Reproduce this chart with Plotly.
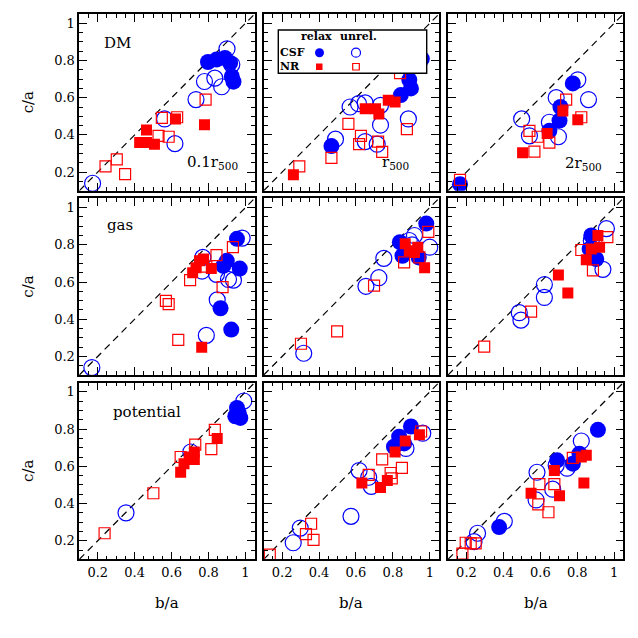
import plotly.graph_objects as go

# ---- data: (b/a, c/a) per panel and group ----
# groups: CSF relaxed, CSF unrelaxed, NR relaxed, NR unrelaxed
DM_01 = {
    "csf_rel": ([0.797, 0.843, 0.889, 0.917, 0.926, 0.935], [0.792, 0.805, 0.814, 0.787, 0.714, 0.686]),
    "csf_unr": ([0.172, 0.90, 0.926, 0.778, 0.834, 0.871, 0.732, 0.562, 0.618],
                [0.14, 0.863, 0.778, 0.687, 0.705, 0.659, 0.59, 0.486, 0.353]),
    "nr_rel": ([0.464, 0.427, 0.464, 0.507, 0.621, 0.778], [0.426, 0.359, 0.359, 0.35, 0.486, 0.455]),
    "nr_unr": ([0.242, 0.303, 0.348, 0.547, 0.63, 0.784, 0.529, 0.584],
               [0.231, 0.268, 0.189, 0.492, 0.495, 0.59, 0.395, 0.39]),
}
DM_1 = {
    "csf_rel": ([0.957, 0.889, 0.898, 0.843, 0.467], [0.809, 0.696, 0.65, 0.614, 0.34]),
    "csf_unr": ([0.489, 0.568, 0.614, 0.65, 0.733, 0.733, 0.884, 0.65, 0.715],
                [0.377, 0.55, 0.568, 0.572, 0.559, 0.453, 0.486, 0.364, 0.35]),
    "nr_rel": ([0.261, 0.65, 0.706, 0.724, 0.775, 0.812], [0.186, 0.541, 0.541, 0.513, 0.586, 0.577]),
    "nr_unr": ([0.293, 0.467, 0.559, 0.627, 0.617, 0.72, 0.742, 0.876, 0.839],
               [0.231, 0.277, 0.459, 0.395, 0.35, 0.364, 0.309, 0.431, 0.732]),
}
DM_2 = {
    "csf_rel": ([0.165, 0.776, 0.709, 0.704, 0.649], [0.135, 0.677, 0.55, 0.477, 0.422]),
    "csf_unr": ([0.803, 0.686, 0.861, 0.499, 0.541, 0.649, 0.698], [0.696, 0.6, 0.59, 0.486, 0.395, 0.468, 0.39]),
    "nr_rel": ([0.722, 0.803, 0.637, 0.504], [0.528, 0.481, 0.408, 0.304]),
    "nr_unr": ([0.165, 0.74, 0.822, 0.541, 0.586, 0.649, 0.568], [0.158, 0.59, 0.495, 0.422, 0.39, 0.359, 0.31]),
}
GAS_01 = {
    "csf_rel": ([0.954, 0.899, 0.88, 0.969, 0.865, 0.923], [0.832, 0.714, 0.687, 0.672, 0.459, 0.344]),
    "csf_unr": ([0.982, 0.769, 0.765, 0.843, 0.908, 0.935, 0.847, 0.788, 0.168],
                [0.836, 0.732, 0.659, 0.641, 0.614, 0.61, 0.504, 0.313, 0.14]),
    "nr_rel": ([0.751, 0.773, 0.714, 0.732, 0.815, 0.763], [0.714, 0.723, 0.65, 0.677, 0.672, 0.249]),
    "nr_unr": ([0.932, 0.843, 0.788, 0.70, 0.876, 0.569, 0.584, 0.636],
               [0.787, 0.745, 0.683, 0.61, 0.572, 0.499, 0.481, 0.289]),
}
GAS_1 = {
    "csf_rel": ([0.981, 0.838, 0.852, 0.94], [0.914, 0.814, 0.741, 0.732]),
    "csf_unr": ([0.917, 0.889, 0.904, 1.0, 0.751, 0.724, 0.654, 0.317],
                [0.85, 0.823, 0.80, 0.787, 0.727, 0.623, 0.577, 0.217]),
    "nr_rel": ([0.867, 0.889, 0.935, 0.972, 0.917], [0.805, 0.768, 0.787, 0.677, 0.759]),
    "nr_unr": ([0.992, 0.861, 0.944, 0.698, 0.498, 0.302], [0.869, 0.705, 0.732, 0.581, 0.335, 0.268]),
}
GAS_2 = {
    "csf_rel": ([0.876, 0.903, 0.867], [0.85, 0.723, 0.778]),
    "csf_unr": ([0.958, 0.876, 0.939, 0.622, 0.622, 0.486, 0.495], [0.887, 0.823, 0.668, 0.586, 0.517, 0.435, 0.395]),
    "nr_rel": ([0.912, 0.921, 0.876, 0.849, 0.698, 0.749], [0.85, 0.787, 0.778, 0.719, 0.637, 0.541]),
    "nr_unr": ([0.963, 0.822, 0.885, 0.55, 0.296], [0.841, 0.772, 0.663, 0.441, 0.253]),
}
POT_01 = {
    "csf_rel": ([0.954, 0.963, 0.945, 0.972], [0.914, 0.887, 0.869, 0.86]),
    "csf_unr": ([0.991, 0.704, 0.353], [0.951, 0.677, 0.35]),
    "nr_rel": ([0.847, 0.723, 0.695, 0.667, 0.649, 0.723], [0.75, 0.677, 0.65, 0.614, 0.568, 0.636]),
    "nr_unr": ([0.834, 0.728, 0.649, 0.815, 0.501, 0.237], [0.796, 0.717, 0.65, 0.692, 0.455, 0.24]),
}
POT_1 = {
    "csf_rel": ([0.898, 0.834, 0.806, 0.861], [0.814, 0.759, 0.705, 0.723]),
    "csf_unr": ([0.962, 0.871, 0.617, 0.669, 0.683, 0.573, 0.298, 0.26],
                [0.778, 0.696, 0.577, 0.541, 0.492, 0.331, 0.268, 0.189]),
    "nr_rel": ([0.867, 0.812, 0.944, 0.77, 0.733, 0.632], [0.736, 0.677, 0.769, 0.523, 0.486, 0.51]),
    "nr_unr": ([0.953, 0.742, 0.849, 0.788, 0.794, 0.669, 0.357, 0.329, 0.37, 0.133],
               [0.787, 0.637, 0.592, 0.564, 0.535, 0.554, 0.291, 0.235, 0.204, 0.125]),
}
POT_2 = {
    "csf_rel": ([0.912, 0.812, 0.776, 0.691, 0.377], [0.796, 0.668, 0.614, 0.632, 0.273]),
    "csf_unr": ([0.822, 0.745, 0.686, 0.582, 0.667, 0.577, 0.405, 0.26, 0.241],
                [0.736, 0.59, 0.605, 0.568, 0.477, 0.419, 0.304, 0.24, 0.195]),
    "nr_rel": ([0.849, 0.822, 0.676, 0.836, 0.55, 0.704], [0.659, 0.65, 0.577, 0.51, 0.455, 0.441]),
    "nr_unr": ([0.776, 0.676, 0.595, 0.589, 0.644, 0.196, 0.223, 0.25, 0.178],
               [0.645, 0.504, 0.504, 0.395, 0.353, 0.189, 0.186, 0.186, 0.131]),
}

PANELS = [[DM_01, DM_1, DM_2], [GAS_01, GAS_1, GAS_2], [POT_01, POT_1, POT_2]]
RADII = ["0.1r<sub>500</sub>", "r<sub>500</sub>", "2r<sub>500</sub>"]
AX_RANGE = [0.1, 1.05]
TICKS = [0.2, 0.4, 0.6, 0.8, 1.0]
TICK_TEXT = ["0.2", "0.4", "0.6", "0.8", "1"]

BLUE = "#0000ff"
RED = "#ff0000"
STYLE = {
    "csf_rel": dict(symbol="circle", size=16, color=BLUE, line=dict(width=0)),
    "csf_unr": dict(symbol="circle-open", size=16, color=BLUE, line=dict(width=1.2, color=BLUE)),
    "nr_rel": dict(symbol="square", size=11, color=RED, line=dict(width=0)),
    "nr_unr": dict(symbol="square-open", size=11, color=RED, line=dict(width=1.2, color=RED)),
}

# page has an 8px body margin, so the figure is drawn 8px in from the window corner
OFF = 8
W = H = 630
FONT = "DejaVu Serif"
# panel frames in window pixels
col_px = [(79.3, 254.7), (263.7, 439.0), (448.0, 623.4)]
row_px = [(14.0, 190.7), (198.3, 375.0), (382.6, 559.3)]


def px(x):
    return (x - OFF) / W


def py(y):
    return 1 - (y - OFF) / H


def sfx(k):
    return "" if k == 1 else str(k)


fig = go.Figure()
layout = {}
annotations = []

for r in range(3):
    for c in range(3):
        k = r * 3 + c + 1
        xa, ya = "x" + sfx(k), "y" + sfx(k)
        # y = x reference line
        fig.add_trace(go.Scatter(x=AX_RANGE, y=AX_RANGE, mode="lines", xaxis=xa, yaxis=ya,
                                 line=dict(color="black", width=1.2, dash="7px,5px"),
                                 hoverinfo="skip", showlegend=False))
        for g in ["csf_rel", "csf_unr", "nr_rel", "nr_unr"]:
            b, ca = PANELS[r][c][g]
            fig.add_trace(go.Scatter(x=b, y=ca, mode="markers", xaxis=xa, yaxis=ya,
                                     marker=STYLE[g], showlegend=False))
        common = dict(range=AX_RANGE, showline=True, linecolor="black", linewidth=1.6,
                      mirror="ticks", ticks="inside", ticklen=8, tickwidth=1.2, tickcolor="black",
                      tickvals=TICKS, ticktext=TICK_TEXT, showgrid=False, zeroline=False,
                      tickfont=dict(family=FONT, size=13, color="black"),
                      minor=dict(dtick=0.05, tick0=0, ticks="inside", ticklen=4,
                                 tickwidth=1.0, tickcolor="black", showgrid=False))
        layout["xaxis" + sfx(k)] = dict(common, anchor=ya,
                                        domain=[px(col_px[c][0]), px(col_px[c][1])],
                                        showticklabels=(r == 2))
        layout["yaxis" + sfx(k)] = dict(common, anchor=xa,
                                        domain=[py(row_px[r][1]), py(row_px[r][0])],
                                        showticklabels=(c == 0))


def note(text, x, y, size, xref="paper", yref="paper", angle=0):
    annotations.append(dict(text=text, xref=xref, yref=yref, x=x, y=y, textangle=angle,
                            xanchor="center", yanchor="middle", showarrow=False,
                            font=dict(family=FONT, size=size, color="black")))


# panel labels
note("DM", 0.22, 0.836, 15, "x domain", "y domain")
note("gas", 0.23, 0.85, 15, "x4 domain", "y4 domain")
note("potential", 0.384, 0.835, 15, "x7 domain", "y7 domain")
for c, (xd, yd) in enumerate([(0.76, 0.16), (0.75, 0.16), (0.77, 0.155)]):
    note(RADII[c], xd, yd, 15, "x" + sfx(c + 1) + " domain", "y" + sfx(c + 1) + " domain")

# axis titles
for r in range(3):
    note("c/a", px(28), py((row_px[r][0] + row_px[r][1]) / 2), 15, angle=-90)
for c in range(3):
    note("b/a", px((col_px[c][0] + col_px[c][1]) / 2), py(603), 15)

# legend box drawn by hand
shapes = [dict(type="rect", xref="paper", yref="paper", x0=px(278.3), x1=px(426.7),
               y0=py(73.3), y1=py(30), line=dict(color="black", width=1.4),
               fillcolor="white")]
shapes.append(dict(type="circle", xref="paper", yref="paper", x0=px(315), x1=px(324),
                   y0=py(57.2), y1=py(48.2), fillcolor=BLUE, line=dict(color=BLUE, width=0)))
shapes.append(dict(type="circle", xref="paper", yref="paper", x0=px(351.5), x1=px(360.5),
                   y0=py(57.2), y1=py(48.2), line=dict(color=BLUE, width=1.2)))
shapes.append(dict(type="rect", xref="paper", yref="paper", x0=px(316), x1=px(322.5),
                   y0=py(70), y1=py(63.5), fillcolor=RED, line=dict(color=RED, width=0)))
shapes.append(dict(type="rect", xref="paper", yref="paper", x0=px(352.7), x1=px(359.3),
                   y0=py(70), y1=py(63.5), line=dict(color=RED, width=1.2)))
for txt, x, y in [("<b>relax</b>", 316, 36.5), ("<b>unrel.</b>", 358, 36.5),
                  ("<b>CSF</b>", 292, 52.7), ("<b>NR</b>", 290, 66.7)]:
    note(txt, px(x), py(y), 11)

fig.update_layout(width=W, height=H, margin=dict(l=0, r=0, t=0, b=0),
                  plot_bgcolor="white", paper_bgcolor="white",
                  annotations=annotations, shapes=shapes, showlegend=False, **layout)

fig.write_html("out.html")
